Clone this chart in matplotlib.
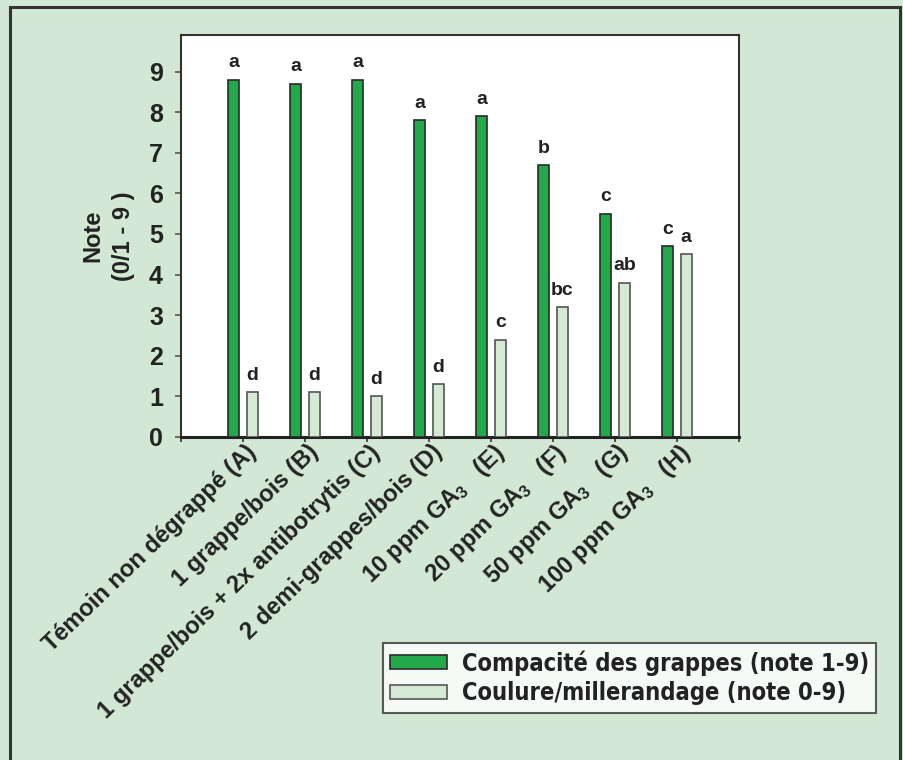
import matplotlib
matplotlib.use("Agg")
import matplotlib.pyplot as plt
import numpy as np
from matplotlib import font_manager
from matplotlib.font_manager import FontProperties
from matplotlib.lines import Line2D
from matplotlib.transforms import ScaledTranslation

categories = [
    "Témoin non dégrappé (A)",
    "1 grappe/bois (B)",
    "1 grappe/bois + 2x antibotrytis (C)",
    "2 demi-grappes/bois (D)",
    "10 ppm GA$_3$   (E)",
    "20 ppm GA$_3$   (F)",
    "50 ppm GA$_3$   (G)",
    "100 ppm GA$_3$   (H)",
]
compacite = [8.8, 8.7, 8.8, 7.8, 7.9, 6.7, 5.5, 4.7]
coulure = [1.1, 1.1, 1.0, 1.3, 2.4, 3.2, 3.8, 4.5]
letters_compacite = ["a", "a", "a", "a", "a", "b", "c", "c"]
letters_coulure = ["d", "d", "d", "d", "c", "bc", "ab", "a"]
series_names = ["Compacité des grappes (note 1-9)", "Coulure/millerandage (note 0-9)"]
yticks = list(range(0, 10))

names = {f.name for f in font_manager.fontManager.ttflist}
main_font = "Liberation Sans" if "Liberation Sans" in names else "DejaVu Sans"

# look for a condensed bold face for the legend
narrow_file = None
for f in font_manager.fontManager.ttflist:
    nm = f.name.lower()
    st = str(f.stretch).lower()
    is_narrow = ("narrow" in nm or "condensed" in nm or st in ("condensed", "semi-condensed", "extra-condensed", "575", "600", "650"))
    w = f.weight
    try:
        w = int(w)
    except Exception:
        w = 700 if "bold" in str(w) else 400
    if is_narrow and w >= 600 and "italic" not in f.style and "cjk" not in nm:
        narrow_file = f.fname
        break

plt.rcParams["font.family"] = [main_font, "DejaVu Sans"]
plt.rcParams["mathtext.fontset"] = "custom"
plt.rcParams["mathtext.rm"] = main_font + ":bold"
plt.rcParams["mathtext.it"] = main_font + ":bold"
plt.rcParams["mathtext.bf"] = main_font + ":bold"
plt.rcParams["mathtext.default"] = "rm"

BG = "#d3e8d4"
GREEN = "#21a94a"
LIGHT = "#d4ead4"
TXT = "#222222"

fig = plt.figure(figsize=(9.04, 7.6), dpi=100, facecolor=BG)
ax = fig.add_axes([181/904, 1 - 437/760, (739-181)/904, (437-35)/760])
ax.set_facecolor("white")

x = np.arange(1, len(categories) + 1)
w = 0.18
off = 0.15
b1 = ax.bar(x - off, compacite, width=w, color=GREEN, edgecolor="#2a2a2a", linewidth=1.2, label=series_names[0], zorder=3)
b2 = ax.bar(x + off, coulure, width=w, color=LIGHT, edgecolor="#555555", linewidth=1.2, label=series_names[1], zorder=3)

for rect, lab in zip(b1, letters_compacite):
    ax.annotate(lab, (rect.get_x() + rect.get_width()/2, rect.get_height()),
                xytext=(0, 6), textcoords="offset points", ha="center", va="bottom",
                fontsize=14, fontweight="bold", color=TXT)
for rect, lab in zip(b2, letters_coulure):
    ax.annotate(lab, (rect.get_x() + rect.get_width()/2, rect.get_height()),
                xytext=(0, 6), textcoords="offset points", ha="center", va="bottom",
                fontsize=14, fontweight="bold", color=TXT)

ax.set_xlim(0, 9)
ax.set_ylim(0, 9.9)
ax.set_yticks(yticks)
ax.set_yticklabels([str(v) for v in yticks], fontsize=18, fontweight="bold", color=TXT)
ax.set_xticks(range(0, 10))
ax.set_xticklabels([""] * 10)

# category labels, rotated, anchored just below each tick
lab_tr = ax.get_xaxis_transform() + ScaledTranslation(10/100, -12/100, fig.dpi_scale_trans)
for xi, cat in zip(x, categories):
    ax.text(xi, 0, cat, transform=lab_tr, rotation=44, rotation_mode="anchor",
            ha="right", va="center", fontsize=17, fontweight="bold", color=TXT, clip_on=False)

ax.tick_params(axis="y", direction="out", length=4.5, width=1.2, pad=8.5, color="#555555")
ax.tick_params(axis="x", direction="out", length=3.6, width=1.2, pad=8, color="#333333")
for s in ["left", "right", "top"]:
    ax.spines[s].set_linewidth(1.5)
    ax.spines[s].set_color("#333333")
ax.spines["bottom"].set_linewidth(2.2)
ax.spines["bottom"].set_color(TXT)

ax.set_ylabel("Note\n(0/1 - 9 )", fontsize=17, fontweight="bold", color=TXT, labelpad=10, linespacing=1.4)

if narrow_file:
    leg_prop = FontProperties(fname=narrow_file, size=17)
else:
    leg_prop = FontProperties(family=main_font, weight="bold", size=16)

leg = fig.legend(handles=[b1, b2], labels=series_names, loc="upper left",
                 bbox_to_anchor=(383/904, 1 - 643/760), bbox_transform=fig.transFigure,
                 prop=leg_prop,
                 frameon=True, fancybox=False, edgecolor="#333333", facecolor="white",
                 handlelength=2.4, handleheight=0.55, labelspacing=0.25, borderpad=0.3,
                 handletextpad=0.63, borderaxespad=0)
leg.get_frame().set_linewidth(1.5)
leg.set_zorder(5)
for t in leg.get_texts():
    t.set_color(TXT)

W, H = 904, 760
border_kw = dict(color="#333333", linewidth=2.2, transform=fig.transFigure)
fig.add_artist(Line2D([10/W, 10/W], [0, 1 - 7/H], **border_kw))
fig.add_artist(Line2D([10/W, 900/W], [1 - 7/H, 1 - 7/H], **border_kw))
fig.add_artist(Line2D([900/W, 900/W], [0, 1 - 7/H], **border_kw))

fig.savefig("out.png", dpi=100, facecolor=BG)
